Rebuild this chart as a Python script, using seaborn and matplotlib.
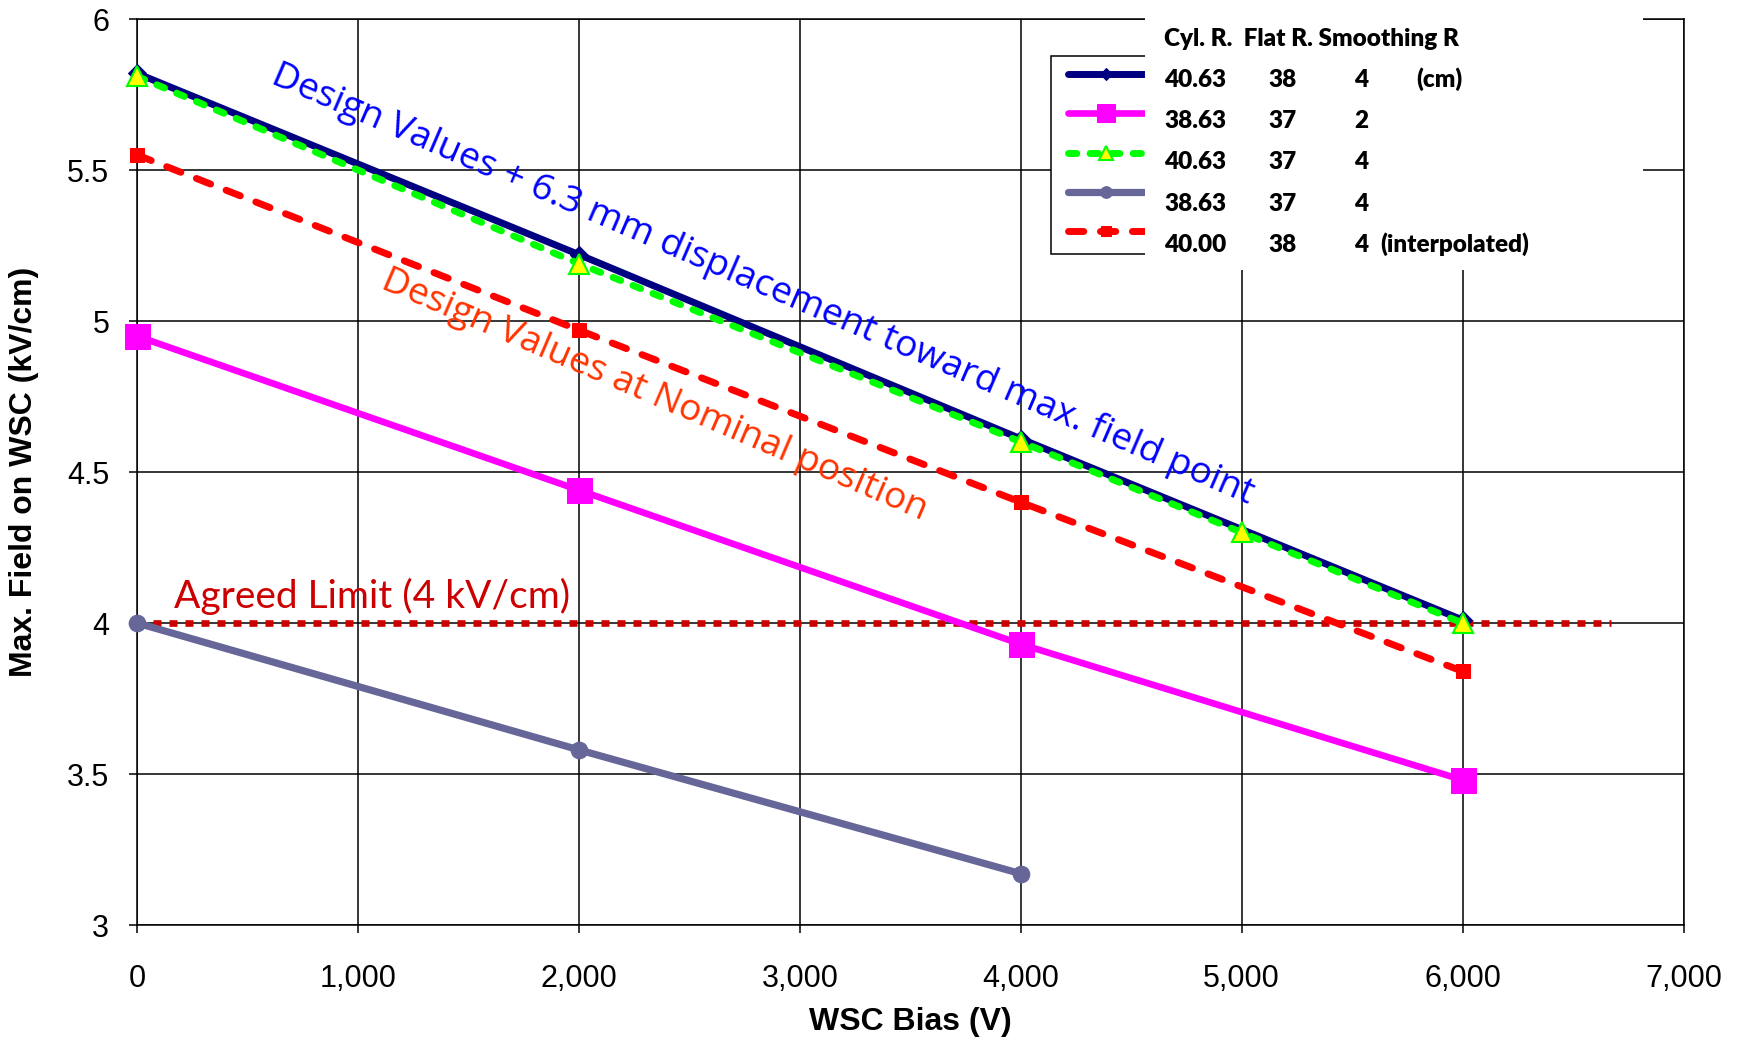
import matplotlib
matplotlib.use('Agg')
import matplotlib.pyplot as plt
import seaborn as sns
from matplotlib.lines import Line2D
from matplotlib.legend_handler import HandlerLine2D
from matplotlib.patches import Rectangle
from matplotlib.ticker import FuncFormatter, MultipleLocator

# значения
bias_main = [0, 2000, 4000, 6000]
bias_green = [0, 2000, 4000, 5000, 6000]
bias_short = [0, 2000, 4000]
field_4063_38_4 = [5.82, 5.22, 4.61, 4.01]
field_3863_37_2 = [4.95, 4.44, 3.93, 3.48]
field_4063_37_4 = [5.81, 5.19, 4.60, 4.30, 4.00]
field_3863_37_4 = [4.00, 3.58, 3.17]
field_interp = [5.55, 4.97, 4.40, 3.84]
limit_bias = [0, 6670]
limit_field = [4.0, 4.0]

legend_header = "Cyl. R.  Flat R. Smoothing R"
legend_cyl = ["40.63", "38.63", "40.63", "38.63", "40.00"]
legend_flat = ["38", "37", "37", "37", "38"]
legend_smooth = ["4", "2", "4", "4", "4"]
legend_note = ["(cm)", "", "", "", "(interpolated)"]

W, H = 1747, 1040

sns.set_theme(style='white')
plt.rcParams['font.family'] = ['Liberation Sans', 'DejaVu Sans']

fig = plt.figure(figsize=(W / 100, H / 100), dpi=100)
ax = fig.add_axes([137 / W, 115 / H, 1546.5 / W, 906 / H])


def draw(x, y, **kw):
    sns.lineplot(x=x, y=y, ax=ax, sort=False, estimator=None, errorbar=None,
                 legend=False, **kw)
    line = ax.lines[-1]
    line.set_clip_on(False)
    return line


# горизонтальная граница 4 kV/cm
draw(limit_bias, limit_field, color='#CC0000', linewidth=4.8,
     linestyle=(0, (1.2, 1.2)), dash_capstyle='butt', zorder=2)

navy = draw(bias_main, field_4063_38_4, color='#000080', linewidth=5.0,
            marker='D', markersize=9, markerfacecolor='#000080',
            markeredgecolor='#000080', zorder=3)
magenta = draw(bias_main, field_3863_37_2, color='#FF00FF', linewidth=4.8,
               marker='s', markersize=18, markerfacecolor='#FF00FF',
               markeredgecolor='#FF00FF', zorder=3)
green = draw(bias_green, field_4063_37_4, color='#00FF00', linewidth=5.0,
             linestyle=(0, (1.2, 1.9)), dash_capstyle='round',
             marker='^', markersize=15, markerfacecolor='#FFFF00',
             markeredgecolor='#00FF00', markeredgewidth=1.5, zorder=4)
grey = draw(bias_short, field_3863_37_4, color='#666699', linewidth=5.2,
            marker='o', markersize=12, markerfacecolor='#666699',
            markeredgecolor='#666699', zorder=3)
red = draw(bias_main, field_interp, color='#FF0000', linewidth=5.0,
           linestyle=(0, (2.2, 2.4)), dash_capstyle='round',
           marker='s', markersize=10, markerfacecolor='#FF0000',
           markeredgecolor='#FF0000', zorder=3)

ax.set_xlim(0, 7000)
ax.set_ylim(3, 6)
ax.xaxis.set_major_locator(MultipleLocator(1000))
ax.yaxis.set_major_locator(MultipleLocator(0.5))
ax.xaxis.set_major_formatter(FuncFormatter(lambda v, p: f'{v:,.0f}'))
ax.yaxis.set_major_formatter(FuncFormatter(lambda v, p: f'{v:g}'))
ax.grid(True, color='black', linewidth=1.1)
ax.set_axisbelow(True)
for s in ax.spines.values():
    s.set_color('black')
    s.set_linewidth(1.1)
ax.tick_params(axis='both', bottom=True, left=True, direction='out', length=6,
               width=1.1, color='black', labelsize=22, labelcolor='black')
ax.tick_params(axis='x', pad=22)
ax.tick_params(axis='y', pad=14)

ax.set_xlabel('WSC Bias (V)', fontsize=23, fontweight='bold', color='black', va='center')
ax.set_ylabel('Max. Field on WSC (kV/cm)', fontsize=23, fontweight='bold', color='black', va='center')
ax.xaxis.set_label_coords(0.5, (925 - 1022) / 906)
ax.yaxis.set_label_coords((24.5 - 137) / 1546.5, 0.5)

# подписи на графике
ax.text(600, 5.79, 'Design Values + 6.3 mm displacement toward max. field point',
        color='#0000FF', fontsize=26.7, family=['Open Sans', 'DejaVu Sans'],
        rotation=-23.3, rotation_mode='anchor', ha='left', va='baseline', zorder=6)
ax.text(1100, 5.11, 'Design Values at Nominal position',
        color='#FF3300', fontsize=26.7, family=['Open Sans', 'DejaVu Sans'],
        rotation=-23.2, rotation_mode='anchor', ha='left', va='baseline', zorder=6)
ax.text(167, 4.05, 'Agreed Limit (4 kV/cm)', color='#CC0000', fontsize=28,
        family=['Lato', 'DejaVu Sans'], ha='left', va='baseline', zorder=6)

# легенда: только образцы линий, текст таблицей поверх
leg = ax.legend([navy, magenta, green, grey, red], [''] * 5, loc='upper left',
                bbox_to_anchor=(1050.6 / W, 1 - 56 / H), bbox_transform=fig.transFigure,
                fontsize=16, frameon=True, fancybox=False, framealpha=1,
                edgecolor='black', borderpad=0.45, labelspacing=0.82,
                handlelength=3.75, handletextpad=0.8, borderaxespad=0,
                markerscale=0.7, handler_map={Line2D: HandlerLine2D(xpad=0.35)})
leg.get_frame().set_linewidth(1.1)

fig.add_artist(Rectangle((1145 / W, 1 - 270 / H), (1643 - 1145) / W, 270 / H,
                         transform=fig.transFigure, facecolor='white',
                         edgecolor='none', zorder=1))

tkw = dict(fontsize=17.5, fontweight='heavy', family=['Lato', 'DejaVu Sans'],
           color='black', va='baseline', ha='left', zorder=2)
fig.text(1164 / W, 1 - 46.5 / H, legend_header, **tkw)
row_base = [86.7, 127.7, 169.3, 211, 252.3]
for i, yb in enumerate(row_base):
    fig.text(1164 / W, 1 - yb / H, legend_cyl[i], **tkw)
    fig.text(1268 / W, 1 - yb / H, legend_flat[i], **tkw)
    fig.text(1354 / W, 1 - yb / H, legend_smooth[i], **tkw)
    if legend_note[i]:
        nx = 1416 if i == 0 else 1380
        fig.text(nx / W, 1 - yb / H, legend_note[i], **tkw)

fig.savefig('out.png', dpi=100, facecolor='white')
